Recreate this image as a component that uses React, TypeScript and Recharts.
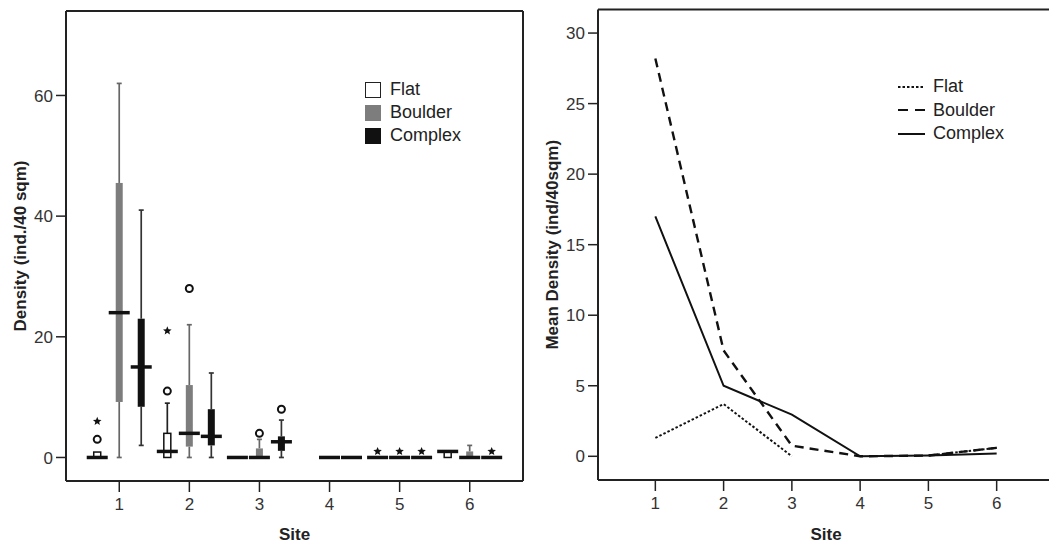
import React from 'react';
import { ComposedChart, LineChart, Bar, Line, XAxis, YAxis, ReferenceLine, Legend, Label } from 'recharts';

const sites = [1, 2, 3, 4, 5, 6];
const groups = ['Flat', 'Boulder', 'Complex'];

// box stats per site: [lower whisker, Q1, median, Q3, upper whisker], null = not sampled
const flatBox = [[0, 0, 0, 0.9, 0.9], [0, 0, 1, 4, 9], [0, 0, 0, 0, 0], null, [0, 0, 0, 0, 0], [0, 0, 1, 1, 1]];
const boulderBox = [[0, 9.2, 24, 45.5, 62], [0, 1.8, 4, 12, 22], [0, 0, 0, 1.5, 3], [0, 0, 0, 0, 0], [0, 0, 0, 0, 0], [0, 0, 0, 1, 2]];
const complexBox = [[2, 8.4, 15, 23, 41], [0, 2, 3.5, 8, 14], [0, 1.1, 2.6, 3.5, 6.2], [0, 0, 0, 0, 0], [0, 0, 0, 0, 0], [0, 0, 0, 0, 0]];

// outliers (circles) and extremes (stars)
const flatOutliers = [[3], [11], [], [], [], []];
const boulderOutliers = [[], [28], [4], [], [], []];
const complexOutliers = [[], [], [8], [], [], []];
const flatExtremes = [[6], [21], [], [], [1], []];
const boulderExtremes = [[], [], [], [], [1], []];
const complexExtremes = [[], [], [], [], [1], [1]];

// mean density per site
const meanFlat = [1.3, 3.7, 0, null, 0.05, 0.6];
const meanBoulder = [28.2, 7.5, 0.75, 0, 0.05, 0.6];
const meanComplex = [17, 5, 2.95, 0, 0.05, 0.2];

const LEFT_Y: [number, number] = [-3.9, 74];
const RIGHT_Y: [number, number] = [-1.68, 31.67];
const INK = '#222';

const boxFill: Record<string, string> = { Flat: '#fff', Boulder: '#7d7d7d', Complex: '#111' };
const whiskerColor: Record<string, string> = { Flat: '#222', Boulder: '#666', Complex: '#333' };
const lineDash: Record<string, string | undefined> = { Flat: '2.5 2', Boulder: '9 6', Complex: undefined };
const legendDash: Record<string, string | undefined> = { Flat: '2.5 2', Boulder: '10 7', Complex: undefined };

const pack = (box: any, out: number[][], ext: number[][], i: number) =>
  box[i] ? { box: box[i], out: out[i], ext: ext[i] } : null;

const boxRows = sites.map((site, i) => ({
  site,
  Flat: pack(flatBox, flatOutliers, flatExtremes, i),
  Boulder: pack(boulderBox, boulderOutliers, boulderExtremes, i),
  Complex: pack(complexBox, complexOutliers, complexExtremes, i),
}));

const meanRows = sites.map((site, i) => ({
  site,
  Flat: meanFlat[i],
  Boulder: meanBoulder[i],
  Complex: meanComplex[i],
}));

const topOf = (g: any) => Math.max(g.box[4], ...g.out, ...g.ext);

// bar spans from the bottom of the axis to the highest point, so the shape can map values to pixels
const rangeKey = (group: string) => (row: any) => {
  const g = row[group];
  return g ? [LEFT_Y[0], topOf(g)] : null;
};

const starPoints = (cx: number, cy: number, r: number) => {
  const pts: string[] = [];
  for (let k = 0; k < 10; k++) {
    const a = -Math.PI / 2 + (k * Math.PI) / 5;
    const rr = k % 2 === 0 ? r : r * 0.45;
    pts.push(`${cx + rr * Math.cos(a)},${cy + rr * Math.sin(a)}`);
  }
  return pts.join(' ');
};

function BoxShape(props: any) {
  const { x, y, width, height, payload, group } = props;
  const g = payload?.[group];
  if (!g || !height) return null;
  const hi = topOf(g);
  const py = (v: number) => y + (height * (hi - v)) / (hi - LEFT_Y[0]);
  const cx = x + width / 2;
  const [lo, q1, med, q3, wh] = g.box;
  const wc = whiskerColor[group];
  return (
    <g>
      {lo < q1 && <line x1={cx} x2={cx} y1={py(lo)} y2={py(q1)} stroke={wc} strokeWidth={1.7} />}
      {wh > q3 && <line x1={cx} x2={cx} y1={py(q3)} y2={py(wh)} stroke={wc} strokeWidth={1.7} />}
      {lo < q1 && <line x1={cx - 2.5} x2={cx + 2.5} y1={py(lo)} y2={py(lo)} stroke={wc} strokeWidth={1.7} />}
      {wh > q3 && <line x1={cx - 2.5} x2={cx + 2.5} y1={py(wh)} y2={py(wh)} stroke={wc} strokeWidth={1.7} />}
      {q3 > q1 && (
        <rect
          x={cx - 3.5}
          y={py(q3)}
          width={7}
          height={py(q1) - py(q3)}
          fill={boxFill[group]}
          stroke={group === 'Flat' ? '#111' : boxFill[group]}
          strokeWidth={group === 'Flat' ? 1.5 : 0}
        />
      )}
      <line x1={cx - 10.5} x2={cx + 10.5} y1={py(med)} y2={py(med)} stroke="#111" strokeWidth={3.5} />
      {g.out.map((v: number, k: number) => (
        <circle key={'o' + k} cx={cx} cy={py(v)} r={3.5} fill="#fff" stroke="#111" strokeWidth={2} />
      ))}
      {g.ext.map((v: number, k: number) => (
        <polygon key={'e' + k} points={starPoints(cx, py(v), 4.5)} fill="#111" />
      ))}
    </g>
  );
}

const byGroupOrder = (payload: any[] = []) =>
  [...payload].sort((a, b) => groups.indexOf(a.value) - groups.indexOf(b.value));

const BoxLegend = ({ payload }: any) => (
  <div style={{ fontSize: 18, color: INK, lineHeight: '23px' }}>
    {byGroupOrder(payload).map((p: any) => (
      <div key={p.value} style={{ display: 'flex', alignItems: 'center', height: 23 }}>
        <span
          style={{
            width: 16,
            height: 16,
            boxSizing: 'border-box',
            background: boxFill[p.value],
            border: p.value === 'Flat' ? '1.5px solid #222' : 'none',
          }}
        />
        <span style={{ marginLeft: 9 }}>{p.value}</span>
      </div>
    ))}
  </div>
);

const LineLegend = ({ payload }: any) => (
  <div style={{ fontSize: 18, color: INK, lineHeight: '23px' }}>
    {byGroupOrder(payload).map((p: any) => (
      <div key={p.value} style={{ display: 'flex', alignItems: 'center', height: 23.5 }}>
        <svg width={27} height={6}>
          <line x1={0} x2={27} y1={3} y2={3} stroke="#111" strokeWidth={2} strokeDasharray={legendDash[p.value]} />
        </svg>
        <span style={{ marginLeft: 8 }}>{p.value}</span>
      </div>
    ))}
  </div>
);

const tickStyle = { fontSize: 17, fill: '#333' };
const titleStyle = { fontSize: 17, fontWeight: 'bold', fill: INK, textAnchor: 'middle' } as any;
const axisLine = { stroke: INK, strokeWidth: 2 };
const tickLine = { stroke: INK, strokeWidth: 1.5 };

// x-axis title, baseline just above the bottom of the axis band
const siteTitle = (props: any) => {
  const vb = props.viewBox || {};
  return (
    <text x={vb.x + vb.width / 2} y={vb.y + vb.height - 4} textAnchor="middle" style={titleStyle}>
      Site
    </text>
  );
};

export default function App() {
  return (
    <div
      style={{
        position: 'fixed',
        left: 0,
        top: 0,
        width: 1049,
        height: 544,
        overflow: 'hidden',
        background: '#fff',
        fontFamily: '"Liberation Sans", Arial, sans-serif',
      }}
    >
      <div style={{ position: 'absolute', left: 0, top: 0 }}>
        <ComposedChart
          width={530}
          height={544}
          data={boxRows}
          margin={{ top: 11, right: 7, bottom: 0, left: 0 }}
          barSize={20}
          barGap={2}
        >
          <XAxis
            dataKey="site"
            type="number"
            domain={[0.24, 6.76]}
            allowDataOverflow
            ticks={sites}
            height={63}
            tickSize={11}
            tickMargin={6}
            tick={tickStyle}
            axisLine={axisLine}
            tickLine={tickLine}
          >
            <Label content={siteTitle} />
          </XAxis>
          <YAxis
            type="number"
            domain={LEFT_Y}
            allowDataOverflow
            ticks={[0, 20, 40, 60]}
            width={66}
            tickSize={10}
            tickMargin={3}
            tick={tickStyle}
            axisLine={axisLine}
            tickLine={tickLine}
          >
            <Label value="Density (ind./40 sqm)" angle={-90} position="insideLeft" offset={20} style={titleStyle} />
          </YAxis>
          <ReferenceLine y={LEFT_Y[1]} stroke={INK} strokeWidth={2} ifOverflow="visible" />
          <ReferenceLine x={6.76} stroke={INK} strokeWidth={2} ifOverflow="visible" />
          {groups.map((name) => (
            <Bar
              key={name}
              name={name}
              dataKey={rangeKey(name)}
              fill={boxFill[name]}
              isAnimationActive={false}
              shape={(p: any) => <BoxShape {...p} group={name} />}
            />
          ))}
          <Legend
            layout="vertical"
            align="center"
            verticalAlign="middle"
            content={BoxLegend}
            wrapperStyle={{ left: 365, top: 78, width: 'auto' }}
          />
        </ComposedChart>
      </div>

      <div style={{ position: 'absolute', left: 520, top: 0 }}>
        <LineChart
          width={540}
          height={544}
          data={meanRows}
          margin={{ top: 9.5, right: 6, bottom: 0, left: 0 }}
        >
          <XAxis
            dataKey="site"
            type="number"
            domain={[0.16, 6.84]}
            allowDataOverflow
            ticks={sites}
            height={64}
            tickSize={11}
            tickMargin={6}
            tick={tickStyle}
            axisLine={axisLine}
            tickLine={tickLine}
          >
            <Label content={siteTitle} />
          </XAxis>
          <YAxis
            type="number"
            domain={RIGHT_Y}
            allowDataOverflow
            ticks={[0, 5, 10, 15, 20, 25, 30]}
            width={78}
            tickSize={10}
            tickMargin={3}
            tick={tickStyle}
            axisLine={axisLine}
            tickLine={tickLine}
          >
            <Label value="Mean Density (ind/40sqm)" angle={-90} position="insideLeft" offset={32} style={titleStyle} />
          </YAxis>
          <ReferenceLine y={RIGHT_Y[1]} stroke={INK} strokeWidth={2} ifOverflow="visible" />
          {groups.map((name) => (
            <Line
              key={name}
              name={name}
              dataKey={name}
              type="linear"
              stroke="#111"
              strokeWidth={name === 'Boulder' ? 2.4 : 2}
              strokeDasharray={lineDash[name]}
              dot={false}
              connectNulls={false}
              isAnimationActive={false}
            />
          ))}
          <Legend
            layout="vertical"
            align="center"
            verticalAlign="middle"
            content={LineLegend}
            wrapperStyle={{ left: 378, top: 75, width: 'auto' }}
          />
        </LineChart>
      </div>
    </div>
  );
}
